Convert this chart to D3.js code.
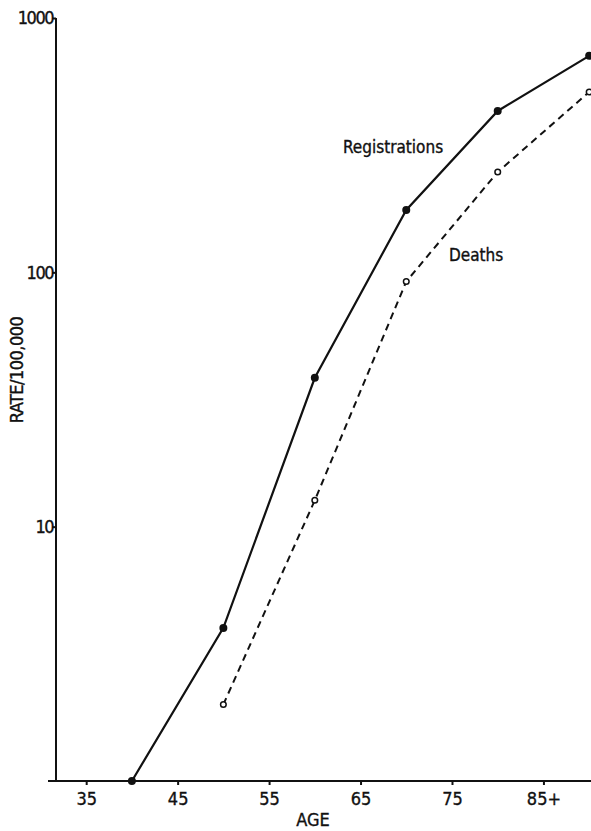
<!DOCTYPE html>
<html>
<head>
<meta charset="utf-8">
<script src="https://cdn.jsdelivr.net/npm/d3@7"></script>
<style>
  body { margin: 0; background: #fff; }
  svg text { font-family: "DejaVu Sans Condensed", "Liberation Sans Narrow", sans-serif; fill: #111; stroke: #111; stroke-width: 0.35px; }
  .axis path, .axis line { stroke: #111; stroke-width: 2; }
</style>
</head>
<body>
<div id="chart-area"></div>
<script>
// rate per 100,000 by age group, log scale
const WIDTH = 591;
const HEIGHT = 831;

const ages = [40, 50, 60, 70, 80, 90];
const registrations = [1, 4, 38.5, 176, 431, 710];
const deathAges = [50, 60, 70, 80, 90];
const deaths = [2, 12.7, 92, 248, 512];
const xTicks = [35, 45, 55, 65, 75, 85];
const xTickLabels = ["35", "45", "55", "65", "75", "85+"];
const yTicks = [1000, 100, 10];

let svg = d3.select("#chart-area").append("svg")
    .attr("width", WIDTH)
    .attr("height", HEIGHT);

let x = d3.scaleLinear()
    .domain([31.7, 90.2])
    .range([56, 591]);

let y = d3.scaleLog()
    .domain([1, 1000])
    .range([781, 18]);

// axes
svg.append("g")
    .attr("class", "axis")
    .attr("transform", "translate(0,781)")
    .call(d3.axisBottom(x).tickValues(xTicks)
        .tickFormat((d, i) => xTickLabels[i])
        .tickSize(4).tickSizeOuter(0))
    .call(g => g.select(".domain").attr("d", "M48,0H591"))
    .call(g => g.selectAll("text").attr("dy", "0.95em").style("font-size", "18px"))
    .call(g => g.selectAll(".tick line").attr("stroke-width", 1.2));

svg.append("g")
    .attr("class", "axis")
    .attr("transform", "translate(56,0)")
    .call(d3.axisLeft(y).tickValues(yTicks)
        .tickFormat(d3.format("d"))
        .tickSize(4).tickSizeOuter(0))
    .call(g => g.select(".domain").attr("d", "M0,18V781"))
    .call(g => g.selectAll("text").attr("x", -3).style("font-size", "18px").style("letter-spacing", "-1.5px"))
    .call(g => g.selectAll(".tick line").attr("stroke-width", 1.2));

// axis titles
svg.append("text")
    .attr("x", 313)
    .attr("y", 826)
    .attr("text-anchor", "middle")
    .style("font-size", "18px")
    .text("AGE");

svg.append("text")
    .attr("transform", "translate(23,370) rotate(-90)")
    .attr("text-anchor", "middle")
    .style("font-size", "18px")
    .style("letter-spacing", "-0.5px")
    .text("RATE/100,000");

// lines
let line = d3.line()
    .x(d => x(d[0]))
    .y(d => y(d[1]));

let regData = ages.map((a, i) => [a, registrations[i]]);
let deathData = deathAges.map((a, i) => [a, deaths[i]]);

svg.append("path")
    .datum(regData)
    .attr("d", line)
    .attr("fill", "none")
    .attr("stroke", "#111")
    .attr("stroke-width", 2.2);

svg.append("path")
    .datum(deathData)
    .attr("d", line)
    .attr("fill", "none")
    .attr("stroke", "#111")
    .attr("stroke-width", 2)
    .attr("stroke-dasharray", "7,5");

svg.selectAll(".reg-dot")
    .data(regData)
    .enter().append("circle")
    .attr("class", "reg-dot")
    .attr("cx", d => x(d[0]))
    .attr("cy", d => y(d[1]))
    .attr("r", 4)
    .attr("fill", "#111");

svg.selectAll(".death-dot")
    .data(deathData)
    .enter().append("circle")
    .attr("class", "death-dot")
    .attr("cx", d => x(d[0]))
    .attr("cy", d => y(d[1]))
    .attr("r", 2.8)
    .attr("fill", "#fff")
    .attr("stroke", "#111")
    .attr("stroke-width", 1.5);

// series labels
svg.append("text")
    .attr("x", 343)
    .attr("y", 153)
    .style("font-size", "17px")
    .text("Registrations");

svg.append("text")
    .attr("x", 449)
    .attr("y", 261)
    .style("font-size", "17px")
    .text("Deaths");
</script>
</body>
</html>
